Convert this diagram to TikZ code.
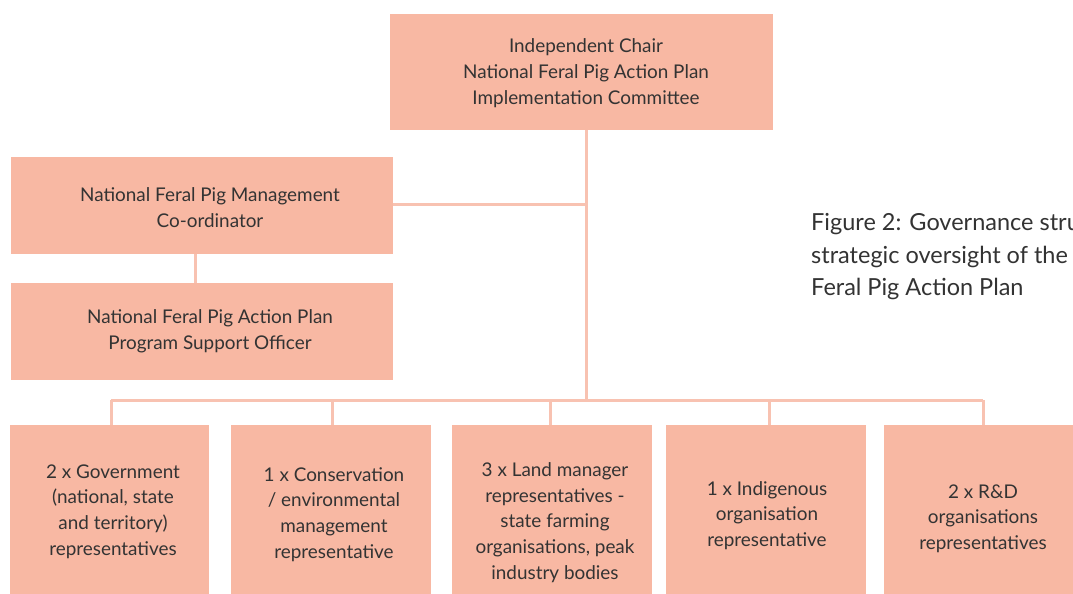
\documentclass[tikz,border=0pt]{standalone}
\usepackage{fontspec}
\setmainfont{Lato}
\definecolor{boxfill}{HTML}{F8B8A3}
\definecolor{linecol}{HTML}{F8C2B1}
\definecolor{txt}{HTML}{333333}
\begin{document}
\begin{tikzpicture}[x=1pt,y=-1pt,
  box/.style={rectangle, fill=boxfill, draw=none, inner sep=0pt, anchor=north west},
  lbl/.style={align=center, text=txt, font=\fontsize{18.9}{25.7}\selectfont, inner sep=0pt},
  captext/.style={align=left, anchor=west, text=txt, font=\fontsize{23.5}{32.5}\selectfont, inner sep=0pt},
  conn/.style={draw=linecol, line width=3pt}]
\useasboundingbox[fill=white] (0,0) rectangle (1073,594);
\begin{scope}
\clip (0,0) rectangle (1073,594);
% boxes
\node[box, minimum width=383pt, minimum height=116pt] (top) at (390,14) {};
\node[box, minimum width=382pt, minimum height=97pt] (coord) at (11,157) {};
\node[box, minimum width=382pt, minimum height=97pt] (supp) at (11,283) {};
\node[box, minimum width=199pt, minimum height=169pt] (b1) at (10,425) {};
\node[box, minimum width=200pt, minimum height=169pt] (b2) at (231,425) {};
\node[box, minimum width=200pt, minimum height=169pt] (b3) at (452,425) {};
\node[box, minimum width=200pt, minimum height=169pt] (b4) at (666,425) {};
\node[box, minimum width=200pt, minimum height=169pt] (b5) at (884,425) {};
% labels
\node[lbl] (ttop) at (586,73) {Independent Chair\\National Feral Pig Action Plan\\Implementation Committee};
\node[lbl] (tcoord) at (210,207.5) {National Feral Pig Management\\Co-ordinator};
\node[lbl] (tsupp) at (210,331) {National Feral Pig Action Plan\\Program Support Officer};
\node[lbl] (t1) at (113,511.5) {2 x Government\\(national, state\\and territory)\\representatives};
\node[lbl] (t2) at (334,514.5) {1 x Conservation\\/ environmental\\management\\representative};
\node[lbl] (t3) at (555,522.5) {3 x Land manager\\representatives -\\state farming\\organisations, peak\\industry bodies};
\node[lbl] (t4) at (767,515.5) {1 x Indigenous\\organisation\\representative};
\node[lbl] (t5) at (983,518.5) {2 x R\&D\\organisations\\representatives};
% caption
\node[captext] (caption) at (811,257) {Figure 2: Governance stru\\strategic oversight of the\\Feral Pig Action Plan};
% connectors
\coordinate (hub) at (586,400);
\coordinate (mid) at (586,204);
\coordinate (d1) at (111,400);
\coordinate (d2) at (332,400);
\coordinate (d3) at (550,400);
\coordinate (d4) at (769,400);
\coordinate (d5) at (983,400);
\coordinate (sx) at (195,0);
\draw[conn] (top.south -| hub) -- (hub);
\draw[conn] (coord.east |- mid) -- (mid);
\draw[conn] (coord.south -| sx) -- (supp.north -| sx);
\draw[conn] (d1) -- (d5);
\draw[conn] (d1) -- (d1 |- b1.north);
\draw[conn] (d2) -- (d2 |- b2.north);
\draw[conn] (d3) -- (d3 |- b3.north);
\draw[conn] (d4) -- (d4 |- b4.north);
\draw[conn] (d5) -- (d5 |- b5.north);
\end{scope}
\end{tikzpicture}
\end{document}
